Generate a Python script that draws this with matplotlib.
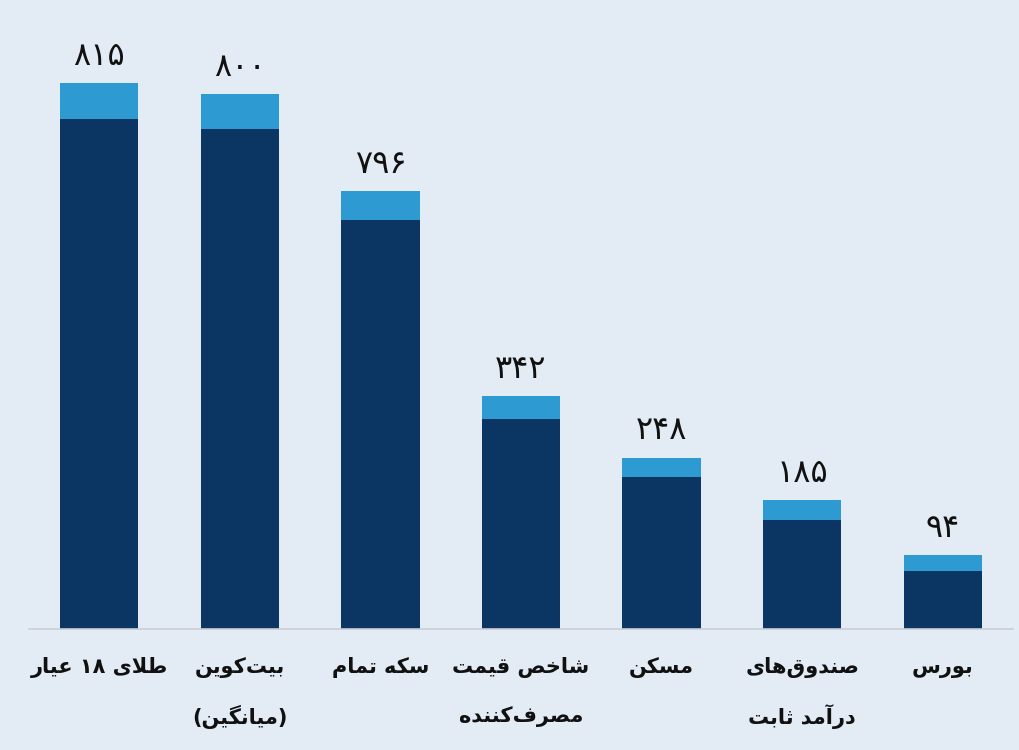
import matplotlib
matplotlib.use("Agg")
import matplotlib.pyplot as plt
import matplotlib.transforms as mtransforms
import numpy as np

# categories (logical Persian text, lines separated by \n)
categories = [
    "طلای ۱۸ عیار",
    "بیت\u200cکوین\n(میانگین)",
    "سکه تمام",
    "شاخص قیمت\nمصرف\u200cکننده",
    "مسکن",
    "صندوق\u200cهای\nدرآمد ثابت",
    "بورس",
]
# value labels printed above the bars
value_labels = ["۸۱۵", "۸۰۰", "۷۹۶", "۳۴۲", "۲۴۸", "۱۸۵", "۹۴"]
# bar segments as drawn
base_part = [762, 747, 611, 314, 227, 163, 87]
top_part = [53, 52, 43, 34, 29, 30, 23]

BG = "#e3ebf5"
DARK = "#0b3562"
LIGHT = "#2d9bd2"

# --- minimal Persian shaping (matplotlib 3.10 has no complex text layout) ---
FORMS = {
    "ا": (0xFE8D, 0xFE8E, None, None),
    "آ": (0xFE81, 0xFE82, None, None),
    "ب": (0xFE8F, 0xFE90, 0xFE91, 0xFE92),
    "ت": (0xFE95, 0xFE96, 0xFE97, 0xFE98),
    "ث": (0xFE99, 0xFE9A, 0xFE9B, 0xFE9C),
    "خ": (0xFEA5, 0xFEA6, 0xFEA7, 0xFEA8),
    "د": (0xFEA9, 0xFEAA, None, None),
    "ر": (0xFEAD, 0xFEAE, None, None),
    "س": (0xFEB1, 0xFEB2, 0xFEB3, 0xFEB4),
    "ش": (0xFEB5, 0xFEB6, 0xFEB7, 0xFEB8),
    "ص": (0xFEB9, 0xFEBA, 0xFEBB, 0xFEBC),
    "ط": (0xFEC1, 0xFEC2, 0xFEC3, 0xFEC4),
    "ع": (0xFEC9, 0xFECA, 0xFECB, 0xFECC),
    "ف": (0xFED1, 0xFED2, 0xFED3, 0xFED4),
    "ق": (0xFED5, 0xFED6, 0xFED7, 0xFED8),
    "ل": (0xFEDD, 0xFEDE, 0xFEDF, 0xFEE0),
    "م": (0xFEE1, 0xFEE2, 0xFEE3, 0xFEE4),
    "ن": (0xFEE5, 0xFEE6, 0xFEE7, 0xFEE8),
    "ه": (0xFEE9, 0xFEEA, 0xFEEB, 0xFEEC),
    "و": (0xFEED, 0xFEEE, None, None),
    "ی": (0xFBFC, 0xFBFD, 0xFBFE, 0xFBFF),
    "ک": (0xFB8E, 0xFB8F, 0xFB90, 0xFB91),
    "گ": (0xFB92, 0xFB93, 0xFB94, 0xFB95),
}
LAM_ALEF = {"ا": (0xFEFB, 0xFEFC), "آ": (0xFEF5, 0xFEF6)}
DIGITS = set("0123456789۰۱۲۳۴۵۶۷۸۹")
MIRROR = {"(": ")", ")": "("}


def dual(c):
    return c in FORMS and FORMS[c][2] is not None


def shape_line(text):
    out = []
    i = 0
    n = len(text)
    while i < n:
        c = text[i]
        if c not in FORMS:
            if c != "\u200c":
                out.append(c)
            i += 1
            continue
        prev = text[i - 1] if i > 0 else ""
        joins_prev = dual(prev)
        if c == "ل" and i + 1 < n and text[i + 1] in LAM_ALEF:
            iso, fin = LAM_ALEF[text[i + 1]]
            out.append(chr(fin if joins_prev else iso))
            i += 2
            continue
        nxt = text[i + 1] if i + 1 < n else ""
        joins_next = dual(c) and nxt in FORMS
        iso, fin, ini, med = FORMS[c]
        if joins_prev and joins_next:
            code = med
        elif joins_prev:
            code = fin
        elif joins_next:
            code = ini
        else:
            code = iso
        out.append(chr(code))
        i += 1

    # visual order: reverse, but keep digit runs left-to-right
    tokens = []
    for ch in out:
        if ch in DIGITS and tokens and tokens[-1][0] in DIGITS:
            tokens[-1] += ch
        else:
            tokens.append(ch)
    tokens.reverse()
    return "".join(MIRROR.get(t, t) for t in tokens)


plt.rcParams["font.family"] = ["DejaVu Sans"]

fig = plt.figure(figsize=(10.19, 7.5), dpi=100)
fig.patch.set_facecolor(BG)
ax = fig.add_axes([0.0285, 0.1613, 0.9656, 0.8387])
ax.set_facecolor(BG)

x = np.arange(len(categories))
ax.bar(x, base_part, width=0.557, color=DARK, zorder=2)
ax.bar(x, top_part, bottom=base_part, width=0.557, color=LIGHT, zorder=2)

totals = np.array(base_part) + np.array(top_part)
for xi, t, lab in zip(x, totals, value_labels):
    ax.annotate(lab, (xi, t), xytext=(0, 13), textcoords="offset points",
                ha="center", va="baseline", fontsize=23, color="#111111")

# category labels, one text per line at fixed heights below the axis
trans = mtransforms.blended_transform_factory(ax.transData, fig.transFigure)
line_y = [1 - 668 / 750, 1 - 717 / 750]
for xi, cat in zip(x, categories):
    for k, line in enumerate(cat.split("\n")):
        ax.text(xi, line_y[k], shape_line(line), transform=trans,
                ha="center", va="center", fontsize=15, fontweight="bold",
                color="#111111")

ax.set_xlim(-0.5, 6.5)
ax.set_ylim(0, 939)
ax.set_yticks([])
ax.set_xticks([])

for side in ["top", "right", "left"]:
    ax.spines[side].set_visible(False)
ax.spines["bottom"].set_color("#c9ced6")
ax.spines["bottom"].set_linewidth(1.2)

fig.savefig("out.png", dpi=100, facecolor=BG)
